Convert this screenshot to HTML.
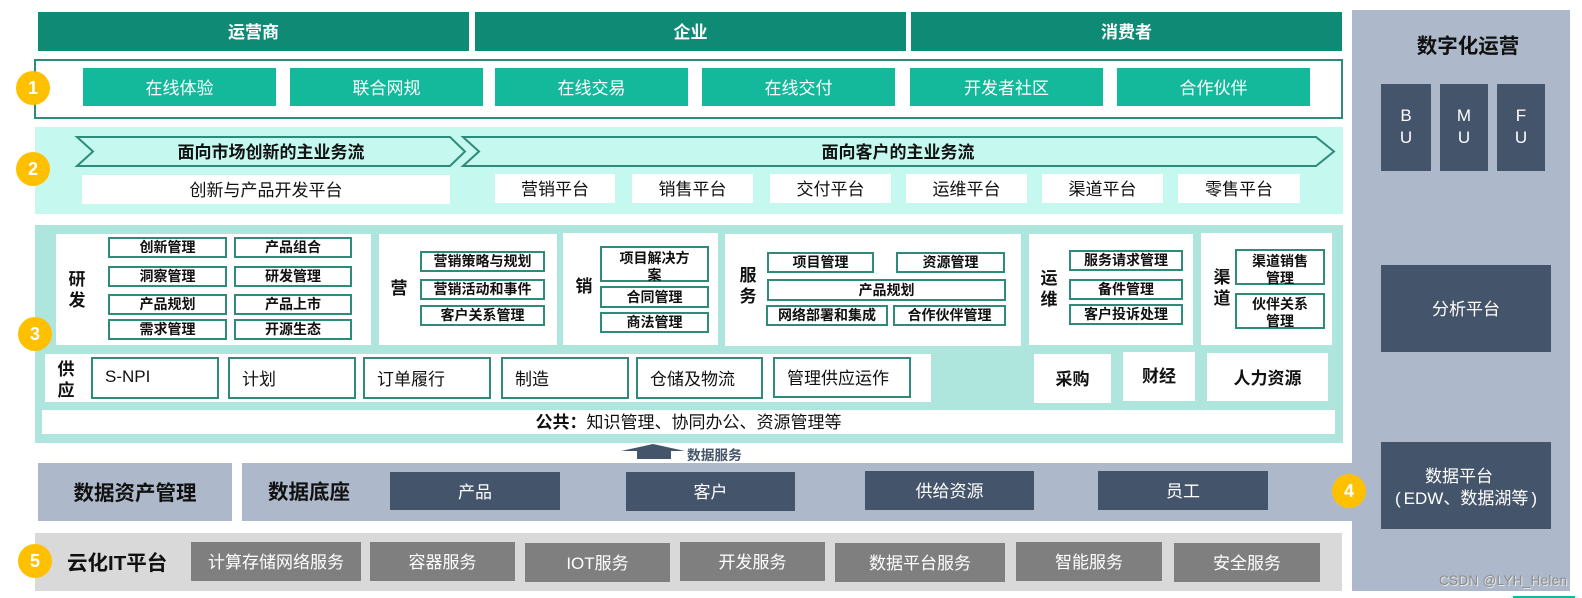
<!DOCTYPE html>
<html lang="zh"><head><meta charset="utf-8"><title>数字化运营架构</title>
<style>
html,body{margin:0;padding:0;background:#fff}
body{width:1582px;height:598px;position:relative;overflow:hidden;font-family:"Liberation Sans","Noto Sans CJK SC",sans-serif;font-size:17px;color:#111}
div{position:absolute;box-sizing:border-box;display:flex;align-items:center;justify-content:center;text-align:center;white-space:nowrap;padding-bottom:2px}
.h{background:#0e8a75;color:#fff;font-weight:700;top:12px;height:39px;width:431px}
.g{background:#14b89a;color:#fff;top:68px;height:38px;width:193px}
.w{background:#fff}
.p{background:#fff;top:174px;height:29px}
.k{background:#fff;border:2px solid #2e8b7a;font-size:14px;font-weight:700;line-height:17px;padding-bottom:0}
.s{background:#fff;border:2px solid #2e8b7a;top:357px;height:42px;justify-content:flex-start;padding-left:12px}
.v{font-weight:700;line-height:21px;font-size:17px;padding-bottom:0}
.d{background:#44546a;color:#fff}
.x{background:#7f7f7f;color:#fff;top:543px;height:39px;padding-bottom:3px}
.c{background:#ffc000;color:#fff;border-radius:50%;width:34px;height:34px;font-weight:700;font-size:18px;padding-bottom:0}
.b{font-weight:700}
</style></head><body>
<div class="h" style="left:38px">运营商</div>
<div class="h" style="left:475px">企业</div>
<div class="h" style="left:911px">消费者</div>

<div style="left:34px;top:59px;width:1309px;height:60px;border:2px solid #2e8b7a"></div>
<div class="g" style="left:83px">在线体验</div>
<div class="g" style="left:290px">联合网规</div>
<div class="g" style="left:495px">在线交易</div>
<div class="g" style="left:702px">在线交付</div>
<div class="g" style="left:910px">开发者社区</div>
<div class="g" style="left:1117px">合作伙伴</div>

<div style="left:35px;top:127px;width:1308px;height:87px;background:#c5f8ef"></div>
<svg style="position:absolute;left:0;top:0" width="1582" height="598">
<polygon points="77,137 450,137 465,151.500 450,166 77,166 93,151.500" fill="#c5f8ef" stroke="#2e8b7a" stroke-width="2"/>
<polygon points="463,137 1316,137 1334,151.500 1316,166 463,166 479,151.500" fill="#c5f8ef" stroke="#2e8b7a" stroke-width="2"/>
</svg>
<div class="b" style="left:93px;top:137px;width:356px;height:29px">面向市场创新的主业务流</div>
<div class="b" style="left:479px;top:137px;width:838px;height:29px">面向客户的主业务流</div>
<div class="w" style="left:82px;top:175px;width:368px;height:29px">创新与产品开发平台</div>
<div class="p" style="left:495px;width:120px">营销平台</div>
<div class="p" style="left:632px;width:121px">销售平台</div>
<div class="p" style="left:770px;width:121px">交付平台</div>
<div class="p" style="left:906px;width:121px">运维平台</div>
<div class="p" style="left:1042px;width:121px">渠道平台</div>
<div class="p" style="left:1178px;width:122px">零售平台</div>

<div style="left:35px;top:225px;width:1308px;height:218px;background:#aee5dc"></div>
<div class="w" style="left:56px;top:234px;width:315px;height:111px"></div>
<div class="w" style="left:379px;top:234px;width:178px;height:111px"></div>
<div class="w" style="left:563px;top:233px;width:155px;height:112px"></div>
<div class="w" style="left:725px;top:234px;width:296px;height:112px"></div>
<div class="w" style="left:1029px;top:234px;width:164px;height:111px"></div>
<div class="w" style="left:1201px;top:233px;width:131px;height:112px"></div>

<div class="v" style="left:62px;top:269px;width:30px;height:42px">研<br>发</div>
<div class="k" style="left:108px;top:237px;width:119px;height:21px">创新管理</div>
<div class="k" style="left:234px;top:237px;width:118px;height:21px">产品组合</div>
<div class="k" style="left:108px;top:266px;width:119px;height:21px">洞察管理</div>
<div class="k" style="left:234px;top:266px;width:118px;height:21px">研发管理</div>
<div class="k" style="left:108px;top:294px;width:119px;height:21px">产品规划</div>
<div class="k" style="left:234px;top:294px;width:118px;height:21px">产品上市</div>
<div class="k" style="left:108px;top:319px;width:119px;height:21px">需求管理</div>
<div class="k" style="left:234px;top:319px;width:118px;height:21px">开源生态</div>

<div class="v" style="left:384px;top:277px;width:30px;height:22px">营</div>
<div class="k" style="left:420px;top:251px;width:125px;height:21px">营销策略与规划</div>
<div class="k" style="left:420px;top:279px;width:125px;height:21px">营销活动和事件</div>
<div class="k" style="left:420px;top:305px;width:125px;height:21px">客户关系管理</div>

<div class="v" style="left:569px;top:275px;width:30px;height:22px">销</div>
<div class="k" style="left:600px;top:246px;width:109px;height:36px;padding-top:5px">项目解决方<br>案</div>
<div class="k" style="left:600px;top:286px;width:109px;height:22px">合同管理</div>
<div class="k" style="left:600px;top:312px;width:109px;height:21px">商法管理</div>

<div class="v" style="left:733px;top:265px;width:30px;height:42px">服<br>务</div>
<div class="k" style="left:767px;top:252px;width:107px;height:21px">项目管理</div>
<div class="k" style="left:896px;top:252px;width:109px;height:21px">资源管理</div>
<div class="k" style="left:767px;top:279px;width:239px;height:22px">产品规划</div>
<div class="k" style="left:766px;top:305px;width:122px;height:21px">网络部署和集成</div>
<div class="k" style="left:893px;top:305px;width:113px;height:21px">合作伙伴管理</div>

<div class="v" style="left:1034px;top:268px;width:30px;height:42px">运<br>维</div>
<div class="k" style="left:1069px;top:250px;width:114px;height:21px">服务请求管理</div>
<div class="k" style="left:1069px;top:279px;width:114px;height:21px">备件管理</div>
<div class="k" style="left:1069px;top:304px;width:114px;height:21px">客户投诉处理</div>

<div class="v" style="left:1207px;top:267px;width:30px;height:42px">渠<br>道</div>
<div class="k" style="left:1235px;top:249px;width:90px;height:36px;padding-top:5px">渠道销售<br>管理</div>
<div class="k" style="left:1235px;top:293px;width:90px;height:36px;padding-top:3px">伙伴关系<br>管理</div>

<div class="w" style="left:45px;top:354px;width:886px;height:48px"></div>
<div class="v" style="left:51px;top:359px;width:30px;height:42px">供<br>应</div>
<div class="s" style="left:91px;width:128px">S-NPI</div>
<div class="s" style="left:228px;width:128px">计划</div>
<div class="s" style="left:363px;width:128px">订单履行</div>
<div class="s" style="left:501px;width:128px">制造</div>
<div class="s" style="left:636px;width:127px">仓储及物流</div>
<div class="s" style="left:773px;width:138px;height:41px">管理供应运作</div>
<div class="w b" style="left:1034px;top:354px;width:77px;height:49px">采购</div>
<div class="w b" style="left:1123px;top:352px;width:72px;height:49px;padding-bottom:4px">财经</div>
<div class="w b" style="left:1207px;top:353px;width:121px;height:48px">人力资源</div>
<div class="w" style="left:42px;top:410px;width:1293px;height:24px;padding-bottom:4px"><span><b>公共：</b>知识管理、协同办公、资源管理等</span></div>

<svg style="position:absolute;left:0;top:0" width="1582" height="598">
<polygon points="621,451 653,444 685,451 671,451 671,459 637,459 637,451" fill="#44546a"/>
</svg>
<div class="b" style="left:687px;top:445px;height:19px;font-size:13.700px;color:#44546a">数据服务</div>

<div style="left:1352px;top:10px;width:218px;height:581px;background:#adb9ca"></div>
<div style="left:38px;top:463px;width:194px;height:58px;background:#adb9ca;font-size:20.500px;font-weight:700">数据资产管理</div>
<div style="left:242px;top:463px;width:1110px;height:58px;background:#adb9ca"></div>
<div class="b" style="left:268px;top:472px;font-size:20.500px;height:38px">数据底座</div>
<div class="d" style="left:390px;top:472px;width:170px;height:38px">产品</div>
<div class="d" style="left:626px;top:472px;width:169px;height:39px">客户</div>
<div class="d" style="left:865px;top:471px;width:169px;height:39px">供给资源</div>
<div class="d" style="left:1098px;top:471px;width:170px;height:39px">员工</div>

<div style="left:35px;top:533px;width:1307px;height:58px;background:#d9d9d9"></div>
<div class="b" style="left:67px;top:542px;height:39px;font-size:20.500px">云化IT平台</div>
<div class="x" style="left:191px;top:542px;width:170px">计算存储网络服务</div>
<div class="x" style="left:370px;top:542px;width:145px">容器服务</div>
<div class="x" style="left:525px;width:145px">IOT服务</div>
<div class="x" style="left:680px;top:542px;width:145px">开发服务</div>
<div class="x" style="left:835px;width:170px">数据平台服务</div>
<div class="x" style="left:1016px;top:542px;width:146px">智能服务</div>
<div class="x" style="left:1174px;width:146px">安全服务</div>

<div class="b" style="left:1368px;top:30px;width:200px;height:30px;font-size:20.500px">数字化运营</div>
<div class="d" style="left:1381px;top:84px;width:50px;height:87px;line-height:22px">B<br>U</div>
<div class="d" style="left:1440px;top:84px;width:48px;height:87px;line-height:22px">M<br>U</div>
<div class="d" style="left:1497px;top:84px;width:48px;height:87px;line-height:22px">F<br>U</div>
<div class="d" style="left:1381px;top:265px;width:170px;height:87px">分析平台</div>
<div class="d" style="left:1381px;top:442px;width:170px;height:87px;line-height:22px;padding-top:5px;padding-bottom:0"><span><span style="margin-right:14px">数据平台</span><br><span style="margin-right:3px">(</span>EDW、数据湖等<span style="margin-left:3px">)</span></span></div>

<div class="c" style="left:16px;top:71px">1</div>
<div class="c" style="left:16px;top:152px">2</div>
<div class="c" style="left:18px;top:317px">3</div>
<div class="c" style="left:1332px;top:474px">4</div>
<div class="c" style="left:18px;top:544px">5</div>

<div style="left:1439px;top:573px;height:17px;font-size:13.500px;color:#8c8c8c;text-shadow:1px 1px 0 #e8e8e8;letter-spacing:.3px">CSDN @LYH_Helen</div>
<div style="left:1513px;top:596px;width:62px;height:2px;background:#14b89a"></div>
</body></html>
